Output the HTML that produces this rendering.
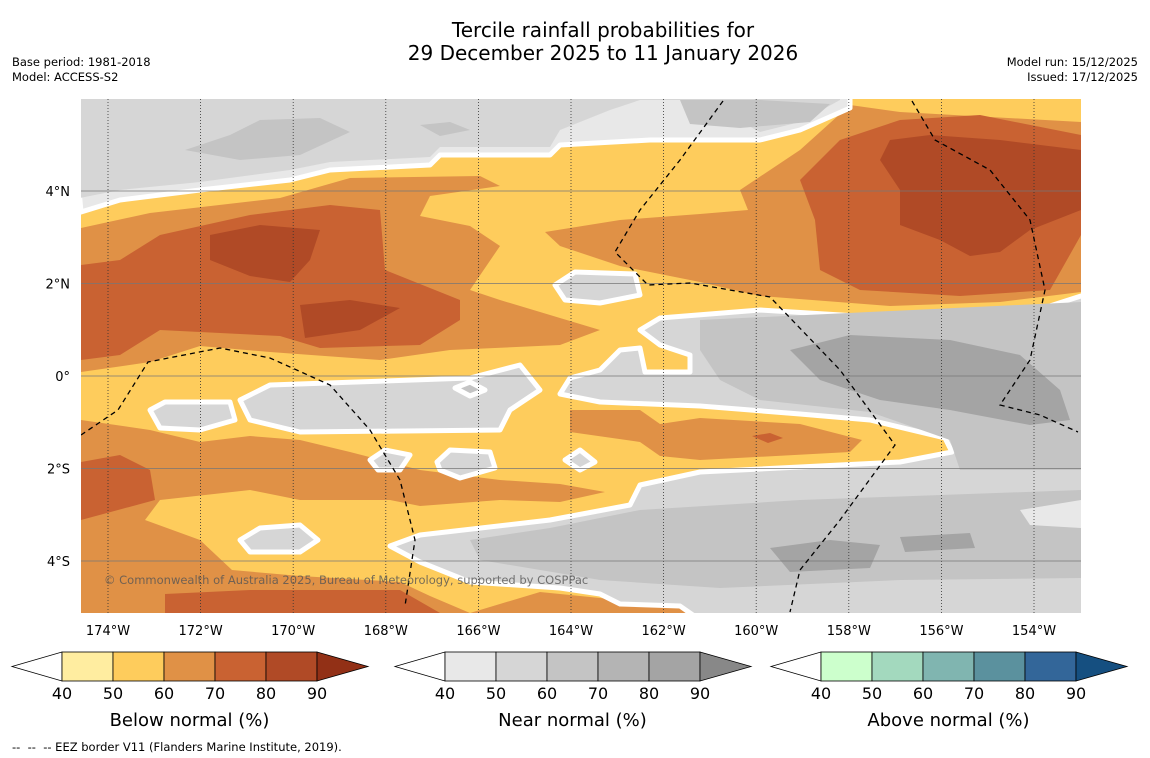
<!DOCTYPE html>
<html><head><meta charset="utf-8"><style>
body{margin:0;background:#fff;font-family:"DejaVu Sans",sans-serif;}
#wrap{position:relative;width:1150px;height:758px;overflow:hidden;background:#fff;}
.t{position:absolute;white-space:nowrap;color:#000;}
</style></head><body>
<div id="wrap">
<div class="t" style="left:0;width:1206px;text-align:center;top:19px;font-size:20px;line-height:23px;">Tercile rainfall probabilities for<br>29 December 2025 to 11 January 2026</div>
<div class="t" style="left:12px;top:55px;font-size:11.5px;line-height:15px;">Base period: 1981-2018<br>Model: ACCESS-S2</div>
<div class="t" style="right:12px;top:55px;font-size:11.5px;line-height:15px;text-align:right;">Model run: 15/12/2025<br>Issued: 17/12/2025</div>
<svg id="map" width="1150" height="758" style="position:absolute;left:0;top:0"></svg>
<div class="t" style="left:12px;top:740px;font-size:11.5px;">--&nbsp; --&nbsp; -- EEZ border V11 (Flanders Marine Institute, 2019).</div>
</div>
<script>
const lonTicks=[-174,-172,-170,-168,-166,-164,-162,-160,-158,-156,-154];
const latTicks=[4,2,0,-2,-4];
const cbTicks=[40,50,60,70,80,90];
const belowColors=['#ffeda0','#fecc5c','#e09146','#c96232','#b04a26','#923016'];
const nearColors=['#e8e8e8','#d6d6d6','#c4c4c4','#b4b4b4','#a4a4a4','#888888'];
const aboveColors=['#ccffcc','#a3d9be','#80b5b0','#5b919e','#336699','#154f80'];
const X0=81,X1=1081,Y0=99,Y1=613;
const FONT='DejaVu Sans';
function X(lon){return 108+(lon+174)*46.3;}
function Y(lat){return 376-lat*46.25;}
const NS='http://www.w3.org/2000/svg';
const svg=document.getElementById('map');
function el(t,a,p){const e=document.createElementNS(NS,t);for(const k in a)e.setAttribute(k,a[k]);(p||svg).appendChild(e);return e;}
const defs=el('defs',{});
const cp=el('clipPath',{id:'clip'},defs);el('rect',{x:X0,y:Y0,width:X1-X0,height:Y1-Y0},cp);
const g=el('g',{'clip-path':'url(#clip)'});


function poly(pts,fill,name,stroke){
 const e=el('polygon',{points:pts.map(p=>p.join(',')).join(' '),fill:fill},g);
 if(stroke){e.setAttribute('stroke','#fff');e.setAttribute('stroke-width','5');e.setAttribute('stroke-linejoin','round');}
 
 
}
const b=el('rect',{x:X0,y:Y0,width:X1-X0,height:Y1-Y0,fill:belowColors[1]},g);


poly([[81,228],[150,213],[280,198],[350,178],[480,176],[500,186],[430,196],[420,216],[470,226],[500,246],[470,290],[500,300],[560,318],[600,330],[560,345],[450,350],[380,360],[270,352],[200,346],[150,362],[81,372]],belowColors[2],'below-60-upper-left');
poly([[740,190],[800,150],[850,105],[900,112],[1081,122],[1081,292],[1000,302],[890,306],[760,296],[700,282],[620,266],[560,246],[545,232],[620,220],[700,214],[748,210]],belowColors[2],'below-60-upper-right');
poly([[570,410],[640,410],[660,424],[700,418],[800,424],[862,440],[850,452],[700,460],[660,456],[640,442],[570,432]],belowColors[2],'below-60-middle');
poly([[81,420],[150,430],[200,442],[250,436],[300,440],[350,452],[420,470],[500,480],[560,484],[605,492],[560,502],[500,500],[420,506],[390,500],[300,500],[250,490],[160,500],[145,520],[200,540],[232,570],[300,576],[400,582],[430,596],[470,613],[81,613]],belowColors[2],'below-60-lower-left');
poly([[470,613],[540,592],[620,600],[700,600],[900,578],[1081,572],[1081,613]],belowColors[2],'below-60-bottom');
poly([[81,265],[120,260],[160,235],[250,215],[330,205],[380,210],[385,270],[460,300],[460,320],[420,345],[320,348],[280,336],[160,330],[120,355],[81,360]],belowColors[3],'below-70-left');
poly([[800,180],[840,140],[900,120],[980,115],[1081,135],[1081,235],[1050,290],[960,296],[860,290],[820,270],[815,220]],belowColors[3],'below-70-right');
poly([[81,462],[120,455],[150,470],[155,500],[81,520]],belowColors[3],'below-70-lower-left');
poly([[165,594],[250,590],[400,590],[440,613],[165,613]],belowColors[3],'below-70-bottom-left');
poly([[790,613],[900,596],[1081,588],[1081,613]],belowColors[3],'below-70-bottom-right');
poly([[752,436],[770,433],[783,438],[768,443]],belowColors[3],'below-70-middle-spot');
poly([[210,235],[260,225],[320,230],[310,260],[290,282],[250,276],[210,260]],belowColors[4],'below-80-left');
poly([[300,305],[350,300],[400,308],[360,330],[305,338]],belowColors[4],'below-80-left-small');
poly([[880,160],[890,140],[930,135],[1000,140],[1081,150],[1081,210],[1030,230],[1000,252],[970,256],[940,240],[900,225],[900,190]],belowColors[4],'below-80-right');
poly([[880,613],[950,600],[1081,598],[1081,613]],belowColors[4],'below-80-bottom-right');
poly([[81,212],[120,200],[200,190],[290,180],[330,170],[430,165],[440,155],[550,155],[560,145],[650,140],[760,140],[800,130],[850,108],[850,90],[70,90]],nearColors[0],'near-40-top',true);
poly([[70,90],[70,200],[120,190],[200,182],[290,170],[330,162],[430,157],[440,147],[550,147],[560,130],[610,110],[640,100],[700,100],[760,132],[800,122],[840,100],[840,90]],nearColors[1],'near-50-top');
poly([[185,150],[230,135],[260,120],[320,118],[350,132],[300,155],[240,160]],nearColors[2],'near-60-top-a');
poly([[420,125],[450,122],[470,130],[440,136]],nearColors[2],'near-60-top-b');
poly([[680,100],[760,100],[830,104],[810,122],[740,128],[690,124]],nearColors[2],'near-60-top-c');
poly([[640,330],[660,318],[760,310],[890,318],[1000,322],[1081,296],[1090,296],[1090,620],[700,620],[680,606],[620,604],[600,594],[560,588],[470,582],[420,562],[390,546],[420,535],[550,520],[630,505],[640,485],[700,472],[900,462],[952,452],[945,438],[870,420],[800,414],[700,406],[600,402],[560,394],[570,378],[600,370],[620,350],[640,348],[645,372],[690,372],[690,355],[660,345]],nearColors[1],'near-50-right',true);
poly([[700,320],[1081,302],[1081,470],[960,470],[950,440],[870,412],[760,400],[720,380],[700,350]],nearColors[2],'near-60-right-upper');
poly([[470,540],[550,528],[640,510],[800,500],[1081,490],[1081,578],[900,580],[720,588],[600,580],[480,560]],nearColors[2],'near-60-right-lower');
poly([[790,350],[850,335],[950,340],[1020,355],[1060,390],[1070,420],[1030,425],[950,410],[880,400],[820,380]],nearColors[4],'near-80-right');
poly([[770,548],[830,540],[880,545],[870,568],[790,572]],nearColors[4],'near-80-lower-a');
poly([[900,537],[970,533],[975,548],[905,552]],nearColors[4],'near-80-lower-b');
poly([[1020,510],[1081,500],[1081,528],[1030,525]],nearColors[0],'near-40-lower-right');
poly([[240,400],[270,385],[470,378],[520,365],[540,390],[510,410],[500,430],[300,432],[250,420]],nearColors[1],'near-island-center',true);
poly([[150,410],[165,402],[230,402],[235,420],[200,430],[160,428]],nearColors[1],'near-island-west',true);
poly([[240,540],[260,528],[300,525],[318,540],[300,552],[250,552]],nearColors[1],'near-island-south',true);
poly([[370,460],[385,450],[410,455],[400,470],[378,470]],nearColors[1],'near-island-a',true);
poly([[437,462],[450,450],[490,452],[495,468],[460,478],[440,470]],nearColors[1],'near-island-b',true);
poly([[565,460],[580,450],[595,462],[580,470]],nearColors[1],'near-island-c',true);
poly([[555,285],[575,272],[635,274],[640,295],[600,303],[565,300]],nearColors[1],'near-island-d',true);
poly([[455,388],[470,382],[485,390],[470,396]],nearColors[2],'near-island-e',true);
lonTicks.forEach(l=>{const e=el('line',{x1:X(l),x2:X(l),y1:Y0,y2:Y1,stroke:'#333','stroke-width':0.8,'stroke-dasharray':'1,2'},g);

});
latTicks.forEach(l=>{const e=el('line',{x1:X0,x2:X1,y1:Y(l),y2:Y(l),stroke:'#777','stroke-width':0.7},g);

});
const eez=[[[81,435],[118,410],[148,362],[220,348],[270,358],[330,385],[370,430],[400,480],[415,540],[405,606]],
[[723,101],[680,160],[640,210],[615,252],[648,285],[690,283],[770,297],[840,370],[895,445],[840,520],[800,570],[790,612]],
[[912,101],[935,140],[990,170],[1030,220],[1045,290],[1030,360],[1000,405],[1040,415],[1078,432]]];
eez.forEach(l=>{const e=el('polyline',{points:l.map(p=>p.join(',')).join(' '),fill:'none',stroke:'#000','stroke-width':1.3,'stroke-dasharray':'5,4'},g);

});
const cr=el('text',{x:104,y:584,'font-size':11.5,fill:'#555','fill-opacity':0.8,'font-family':FONT},g);
cr.textContent='© Commonwealth of Australia 2025, Bureau of Meteorology, supported by COSPPac';


lonTicks.forEach(l=>{const t=el('text',{x:X(l),y:635,'font-size':13,'text-anchor':'middle','font-family':FONT});t.textContent=Math.abs(l)+'°W';

});
latTicks.forEach(l=>{const t=el('text',{x:70,y:Y(l)+5,'font-size':13,'text-anchor':'end','font-family':FONT});t.textContent=l===0?'0°':Math.abs(l)+'°'+(l>0?'N':'S');

});
function colorbar(x0,colors,title,name){
 const w=51,y=652,h=29;
 const cg=el('g',{});
 
 
 el('polygon',{points:`${x0-50},${y+h/2} ${x0},${y} ${x0},${y+h}`,fill:'#fff',stroke:'#000','stroke-width':0.8},cg);
 for(let i=0;i<5;i++) el('rect',{x:x0+i*w,y:y,width:w,height:h,fill:colors[i],stroke:'#000','stroke-width':0.8},cg);
 el('polygon',{points:`${x0+5*w},${y} ${x0+5*w+51},${y+h/2} ${x0+5*w},${y+h}`,fill:colors[5],stroke:'#000','stroke-width':0.8},cg);
 cbTicks.forEach((v,i)=>{const t=el('text',{x:x0+i*w,y:699,'font-size':16,'text-anchor':'middle','font-family':FONT},cg);t.textContent=v;});
 const tt=el('text',{x:x0+2.5*w,y:726,'font-size':18,'text-anchor':'middle','font-family':FONT},cg);tt.textContent=title;
}
colorbar(62,belowColors,'Below normal (%)','colorbar-below-normal');
colorbar(445,nearColors,'Near normal (%)','colorbar-near-normal');
colorbar(821,aboveColors,'Above normal (%)','colorbar-above-normal');
</script>
</body></html>
